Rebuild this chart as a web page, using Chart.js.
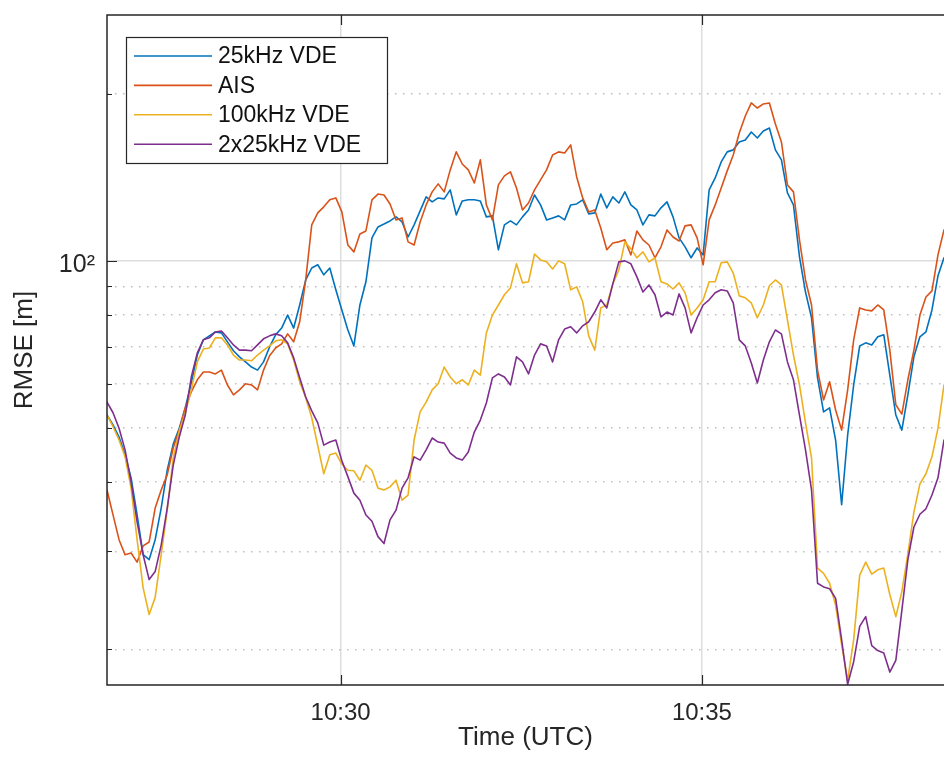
<!DOCTYPE html>
<html>
<head>
<meta charset="utf-8">
<title>RMSE over time</title>
<script src="https://cdn.jsdelivr.net/npm/chart.js@4.4.1/dist/chart.umd.min.js"></script>
<style>
  html, body { margin: 0; padding: 0; background: #ffffff; }
  canvas { display: block; }
</style>
</head>
<body>
<canvas id="rmse" width="944" height="763"></canvas>
<script>
// Position error (RMSE, metres) of each ranging source, one sample every 5 s.
const SERIES_LABELS = ['25kHz VDE', 'AIS', '100kHz VDE', '2x25kHz VDE'];
const SERIES_COLORS = ['#0072BD', '#D95319', '#EDB120', '#7E2F8E'];
const FIRST_SAMPLE = '10:26:46';
const SAMPLE_STEP_S = 5;
const X_RANGE = ['10:26:46', '10:38:21'];
const X_TICK_LABELS = ['10:30', '10:35'];
const Y_RANGE = [17.25, 277];
const Y_GRID_VALUES = [20, 30, 40, 50, 60, 70, 80, 90, 100, 200];
const Y_LABELLED = [100];

const vde25 = [
  52.8, 50.7, 48.2, 44.8, 40.7, 34.9, 29.6, 29.0, 31.5, 35.9,
  42.0, 46.8, 50.0, 54.4, 60.3, 67.7, 72.1, 73.3, 74.5, 74.2,
  71.5, 68.9, 67.2, 65.8, 64.4, 63.6, 65.8, 70.0, 73.6, 75.7,
  79.9, 75.7, 83.3, 92.4, 97.1, 98.4, 94.4, 97.1, 88.7, 81.6,
  75.1, 70.3, 83.3, 91.7, 110.0, 115.1, 116.5, 118.0, 120.0, 117.5,
  110.4, 116.1, 123.0, 130.4, 127.7, 129.8, 129.3, 134.2, 121.0, 128.2,
  128.8, 128.8, 128.2, 120.0, 120.5, 104.7, 116.1, 118.0, 116.1, 120.0,
  123.5, 131.4, 126.1, 118.5, 119.5, 120.5, 118.5, 126.1, 126.6, 128.8,
  121.5, 122.0, 131.9, 124.6, 130.4, 127.1, 133.1, 126.1, 123.5, 116.1,
  121.0, 120.5, 124.6, 127.7, 120.0, 110.0, 106.0, 101.3, 105.5, 102.5,
  134.2, 141.0, 150.7, 157.1, 158.4, 163.7, 165.0, 170.6, 166.4, 171.3,
  173.4, 158.4, 152.0, 132.5, 126.1, 101.7, 87.9, 79.0, 61.6, 53.5,
  54.4, 47.6, 36.4, 48.6, 59.8, 70.3, 71.2, 70.6, 73.0, 73.6,
  62.3, 52.8, 49.6, 57.4, 67.2, 73.0, 74.5, 81.6, 94.0, 101.3, 106.8
];

const ais = [
  38.7, 34.9, 31.5, 29.6, 29.8, 28.7, 30.7, 31.2, 35.9, 38.7,
  41.2, 46.1, 49.6, 54.4, 58.1, 61.1, 63.1, 63.1, 62.6, 63.6,
  59.8, 57.4, 58.6, 60.1, 59.8, 58.6, 63.6, 67.5, 69.7, 70.9,
  73.9, 71.5, 77.7, 92.4, 116.1, 122.0, 125.1, 128.8, 129.8, 122.5,
  106.8, 103.8, 111.8, 113.2, 128.8, 131.9, 131.4, 126.6, 118.5, 119.5,
  108.2, 106.8, 117.5, 126.1, 133.1, 137.6, 133.1, 145.8, 157.1, 149.4,
  145.8, 138.1, 152.0, 126.1, 118.5, 137.0, 142.2, 144.6, 135.3, 123.5,
  127.1, 134.2, 139.9, 145.8, 155.1, 157.1, 156.4, 161.7, 141.6, 129.8,
  122.5, 123.5, 114.6, 104.7, 107.7, 108.2, 109.1, 102.5, 113.2, 109.1,
  106.8, 101.3, 106.0, 113.7, 110.4, 108.6, 115.6, 116.1, 110.0, 98.4,
  118.5, 126.1, 135.3, 145.2, 155.1, 169.9, 182.3, 192.4, 188.4, 191.6,
  192.4, 176.4, 163.7, 137.0, 133.1, 109.1, 92.4, 83.3, 63.6, 56.2,
  60.6, 53.9, 49.6, 58.6, 72.1, 82.3, 81.6, 81.3, 83.3, 81.6,
  69.1, 55.1, 53.0, 61.1, 69.1, 79.9, 86.1, 88.3, 102.5, 113.7, 121.0
];

const vde100 = [
  52.8, 50.3, 47.6, 44.4, 39.0, 31.5, 25.8, 23.1, 24.8, 29.6,
  35.6, 44.2, 49.4, 53.3, 58.6, 65.8, 69.4, 69.7, 72.7, 72.7,
  70.6, 67.7, 66.3, 66.3, 66.1, 67.7, 69.1, 70.3, 71.8, 72.1,
  70.9, 66.3, 60.6, 56.7, 52.2, 46.5, 41.4, 44.8, 45.1, 43.1,
  42.0, 41.9, 40.3, 42.9, 42.0, 39.0, 38.7, 39.2, 40.3, 37.1,
  37.9, 47.6, 53.5, 55.7, 58.6, 60.1, 64.4, 61.8, 60.1, 61.1,
  59.8, 63.6, 62.3, 74.2, 79.9, 83.3, 86.9, 89.4, 98.8, 91.3,
  91.7, 102.9, 100.4, 99.6, 96.7, 100.0, 98.8, 88.7, 89.8, 84.4,
  73.3, 69.1, 82.3, 83.3, 90.9, 96.3, 108.2, 105.1, 101.3, 103.8,
  99.6, 101.3, 91.7, 90.9, 89.0, 91.3, 87.6, 79.9, 82.3, 85.1,
  91.7, 91.7, 99.2, 99.6, 95.1, 86.5, 85.8, 84.0, 79.0, 83.3,
  90.2, 92.4, 90.5, 78.3, 67.7, 59.8, 51.1, 44.2, 28.0, 27.4,
  26.3, 24.0, 20.4, 17.6, 20.8, 27.2, 28.7, 27.3, 27.8, 28.0,
  25.1, 22.9, 25.4, 29.7, 35.3, 39.7, 41.4, 44.4, 50.0, 59.8, 72.1
];

const vde2x25 = [
  55.7, 53.3, 50.0, 45.7, 40.0, 33.9, 29.6, 26.7, 27.6, 30.8,
  35.9, 42.9, 48.2, 52.8, 61.8, 68.3, 72.1, 72.7, 74.5, 74.8,
  72.7, 70.6, 69.1, 69.1, 68.9, 70.6, 72.4, 73.3, 73.9, 73.3,
  71.2, 66.9, 61.6, 56.9, 53.7, 51.1, 46.6, 47.2, 47.6, 43.7,
  40.9, 38.2, 37.1, 34.9, 34.0, 31.9, 31.0, 34.2, 35.6, 39.0,
  40.7, 44.4, 43.8, 45.7, 48.0, 47.2, 47.0, 45.1, 44.2, 43.8,
  45.3, 49.2, 51.7, 55.5, 61.6, 62.6, 61.8, 59.8, 67.2, 65.8,
  62.6, 67.7, 70.9, 70.3, 65.8, 72.1, 75.4, 76.1, 74.2, 76.4,
  77.7, 80.9, 85.1, 82.3, 90.9, 99.6, 100.0, 98.8, 93.6, 87.9,
  90.5, 86.9, 79.3, 80.9, 79.9, 87.2, 82.3, 74.2, 79.0, 83.3,
  85.1, 87.6, 88.7, 88.3, 84.0, 72.1, 70.3, 65.5, 60.3, 66.3,
  71.5, 75.1, 73.9, 65.8, 61.1, 52.8, 45.7, 38.7, 26.3, 25.9,
  25.7, 24.7, 20.8, 17.3, 19.0, 22.0, 22.9, 20.3, 19.9, 19.7,
  18.2, 19.1, 23.5, 29.0, 33.2, 35.0, 35.8, 37.9, 40.7, 47.6, 53.9
];

const SERIES_VALUES = [vde25, ais, vde100, vde2x25];

// 'hh:mm[:ss]' <-> seconds since midnight
function clockToSeconds(text) {
  const [h, m, s = 0] = text.split(':').map(Number);
  return h * 3600 + m * 60 + s;
}
function secondsToClock(sec) {
  const h = Math.floor(sec / 3600);
  const m = Math.floor((sec % 3600) / 60);
  return h + ':' + String(m).padStart(2, '0');
}
const SUPERSCRIPT = {'0': '⁰', '1': '¹', '2': '²', '3': '³', '4': '⁴', '5': '⁵', '6': '⁶', '7': '⁷', '8': '⁸', '9': '⁹'};
function powerOfTen(v) {
  const exp = String(Math.round(Math.log10(v)));
  return '10' + exp.split('').map(d => SUPERSCRIPT[d]).join('');
}

const t0 = clockToSeconds(FIRST_SAMPLE);
const xTickValues = X_TICK_LABELS.map(clockToSeconds);
const isLabelled = v => Y_LABELLED.includes(v);

const INK = '#262626';
const MAJOR_GRID = '#dddddd';
const MINOR_GRID = '#bdbdbd';
Chart.defaults.font.family = '"Liberation Sans", Arial, Helvetica, sans-serif';
Chart.defaults.color = INK;

// Box outline and inward-pointing tick marks, drawn over the data.
const axesFrame = {
  id: 'axesFrame',
  afterDatasetsDraw(chart) {
    const {ctx, chartArea: a, scales: {x, y}} = chart;
    ctx.save();
    ctx.strokeStyle = INK;
    ctx.lineWidth = 1.5;
    ctx.beginPath();
    ctx.moveTo(a.right + 2, a.top);
    ctx.lineTo(a.left, a.top);
    ctx.lineTo(a.left, a.bottom);
    ctx.lineTo(a.right + 2, a.bottom);
    ctx.stroke();
    ctx.lineWidth = 1.2;
    ctx.beginPath();
    x.ticks.forEach(t => {
      const px = Math.round(x.getPixelForValue(t.value)) + 0.5;
      ctx.moveTo(px, a.bottom); ctx.lineTo(px, a.bottom - 10);
      ctx.moveTo(px, a.top); ctx.lineTo(px, a.top + 10);
    });
    y.ticks.forEach(t => {
      const py = Math.round(y.getPixelForValue(t.value)) + 0.5;
      const len = isLabelled(t.value) ? 10 : 5;
      ctx.moveTo(a.left, py); ctx.lineTo(a.left + len, py);
    });
    ctx.stroke();
    ctx.restore();
  }
};

// Legend box in the upper-left corner of the plot area.
const insetLegend = {
  id: 'insetLegend',
  afterDraw(chart) {
    const {ctx, chartArea: a} = chart;
    const box = {x: a.left + 19, y: a.top + 22, w: 261, h: 126};
    ctx.save();
    ctx.fillStyle = '#ffffff';
    ctx.fillRect(box.x, box.y, box.w, box.h);
    ctx.strokeStyle = INK;
    ctx.lineWidth = 1.2;
    ctx.strokeRect(box.x + 0.5, box.y + 0.5, box.w, box.h);
    ctx.font = '23px "Liberation Sans", Arial, Helvetica, sans-serif';
    ctx.textBaseline = 'middle';
    ctx.textAlign = 'left';
    chart.data.datasets.forEach((ds, i) => {
      const cy = box.y + 19 + i * 29.4;
      ctx.strokeStyle = ds.borderColor;
      ctx.lineWidth = 1.6;
      ctx.beginPath();
      ctx.moveTo(box.x + 8, cy);
      ctx.lineTo(box.x + 86, cy);
      ctx.stroke();
      ctx.fillStyle = '#111111';
      ctx.fillText(ds.label, box.x + 92, cy + 1);
    });
    ctx.restore();
  }
};

const datasets = SERIES_LABELS.map((label, k) => ({
  label,
  data: SERIES_VALUES[k].map((v, i) => ({x: t0 + i * SAMPLE_STEP_S, y: v})),
  borderColor: SERIES_COLORS[k],
  backgroundColor: SERIES_COLORS[k],
  borderWidth: 1.6,
  borderJoinStyle: 'round',
  borderCapStyle: 'round',
  pointRadius: 0,
  tension: 0,
  fill: false,
  order: SERIES_LABELS.length - 1 - k
}));

new Chart(document.getElementById('rmse'), {
  type: 'line',
  data: {datasets},
  plugins: [axesFrame, insetLegend],
  options: {
    responsive: false,
    animation: false,
    devicePixelRatio: 1,
    events: [],
    layout: {padding: {top: 15, left: 0, right: 0, bottom: 0}},
    plugins: {legend: {display: false}, tooltip: {enabled: false}},
    scales: {
      x: {
        type: 'linear',
        min: clockToSeconds(X_RANGE[0]),
        max: clockToSeconds(X_RANGE[1]),
        afterFit: s => { s.height = 78; s.paddingLeft = 0; s.paddingRight = 0; },
        afterBuildTicks: s => { s.ticks = xTickValues.map(v => ({value: v})); },
        grid: {color: MAJOR_GRID, lineWidth: 1.5, drawTicks: false},
        border: {display: false},
        ticks: {
          padding: 14, autoSkip: false, maxRotation: 0, color: INK,
          font: {size: 24},
          callback: v => secondsToClock(v)
        },
        title: {display: true, text: 'Time (UTC)', color: INK, font: {size: 26}, padding: {top: 0, bottom: 10}}
      },
      y: {
        type: 'logarithmic',
        min: Y_RANGE[0],
        max: Y_RANGE[1],
        afterFit: s => { s.width = 107; s.paddingTop = 0; s.paddingBottom = 0; },
        afterBuildTicks: s => { s.ticks = Y_GRID_VALUES.map(v => ({value: v})); },
        grid: {
          color: c => (c.tick && isLabelled(c.tick.value)) ? MAJOR_GRID : MINOR_GRID,
          lineWidth: 1.5,
          drawTicks: false
        },
        border: {
          display: false,
          dash: c => (c.tick && isLabelled(c.tick.value)) ? [] : [1.5, 6.5]
        },
        ticks: {
          padding: 12, labelOffset: 4, autoSkip: false, color: INK,
          font: {size: 25},
          callback: v => isLabelled(v) ? powerOfTen(v) : ''
        },
        title: {display: true, text: 'RMSE [m]', color: INK, font: {size: 26}, padding: {top: 9, bottom: 0}}
      }
    }
  }
});
</script>
</body>
</html>
